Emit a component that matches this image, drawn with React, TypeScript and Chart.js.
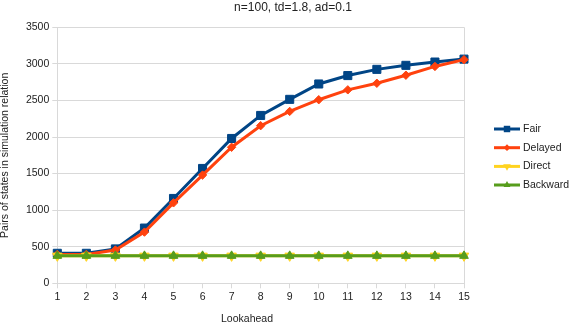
import React, { useEffect, useRef } from "react";
import { Chart, registerables } from "chart.js";

Chart.register(...registerables);

const lookahead = [1, 2, 3, 4, 5, 6, 7, 8, 9, 10, 11, 12, 13, 14, 15];
const fair = [410, 410, 470, 755, 1160, 1570, 1980, 2295, 2515, 2725, 2840, 2925, 2980, 3025, 3065];
const delayed = [395, 395, 455, 700, 1100, 1480, 1860, 2155, 2350, 2510, 2645, 2735, 2845, 2965, 3058];
const direct = [375, 375, 375, 375, 375, 375, 375, 375, 375, 375, 375, 375, 375, 375, 375];
const backward = [375, 375, 375, 375, 375, 375, 375, 375, 375, 375, 375, 375, 375, 375, 375];

const titleText = "n=100, td=1.8, ad=0.1";
const xTitle = "Lookahead";
const yTitle = "Pairs of states in simulation relation";

const FONT = "'Liberation Sans', Arial, sans-serif";
const TEXT = "#222222";
const GRID = "#d9d9d9";

const seriesDefs = [
  { label: "Fair", data: fair, color: "#004586", style: "rect", radius: 5.7, rotation: 0, order: 4 },
  { label: "Delayed", data: delayed, color: "#ff420e", style: "rectRot", radius: 4.2, rotation: 0, order: 3 },
  { label: "Direct", data: direct, color: "#ffd320", style: "triangle", radius: 5.5, rotation: 180, order: 2 },
  { label: "Backward", data: backward, color: "#579d1c", style: "triangle", radius: 5, rotation: 0, order: 1 },
];

function drawMarker(ctx: CanvasRenderingContext2D, style: string, r: number, rot: number, x: number, y: number) {
  ctx.save();
  ctx.translate(x, y);
  ctx.rotate((rot * Math.PI) / 180);
  ctx.beginPath();
  if (style === "rect") {
    const s = r * Math.SQRT1_2;
    ctx.rect(-s, -s, 2 * s, 2 * s);
  } else if (style === "rectRot") {
    ctx.moveTo(-r, 0);
    ctx.lineTo(0, -r);
    ctx.lineTo(r, 0);
    ctx.lineTo(0, r);
    ctx.closePath();
  } else {
    const h = (r * 3) / Math.sqrt(3);
    ctx.moveTo(-h / 2, r / 2);
    ctx.lineTo(0, -r);
    ctx.lineTo(h / 2, r / 2);
    ctx.closePath();
  }
  ctx.fill();
  ctx.restore();
}

const overlayPlugin = {
  id: "overlay",
  afterDraw(chart: any) {
    const ctx = chart.ctx as CanvasRenderingContext2D;
    const area = chart.chartArea;
    ctx.save();
    ctx.fillStyle = TEXT;
    ctx.font = `12px ${FONT}`;
    ctx.textAlign = "center";
    ctx.textBaseline = "middle";
    ctx.fillText(titleText, 293, 7.5);
    ctx.font = `10.5px ${FONT}`;
    ctx.fillText(xTitle, 247, 319);
    ctx.save();
    ctx.translate(5.5, (area.top + area.bottom) / 2);
    ctx.rotate(-Math.PI / 2);
    ctx.fillText(yTitle, 0, 0);
    ctx.restore();
    const ys = [129, 147.7, 166.4, 185];
    seriesDefs.forEach((s, i) => {
      const y = ys[i];
      ctx.strokeStyle = s.color;
      ctx.lineWidth = 3;
      ctx.beginPath();
      ctx.moveTo(494, y);
      ctx.lineTo(520, y);
      ctx.stroke();
      ctx.fillStyle = s.color;
      drawMarker(ctx, s.style, s.radius * 0.8, s.rotation, 507, y);
      ctx.fillStyle = TEXT;
      ctx.font = `10.5px ${FONT}`;
      ctx.textAlign = "left";
      ctx.textBaseline = "middle";
      ctx.fillText(s.label, 523, y);
    });
    ctx.restore();
  },
};

export default function App() {
  const ref = useRef<HTMLCanvasElement | null>(null);
  useEffect(() => {
    if (!ref.current) return;
    const chart = new Chart(ref.current, {
      type: "line",
      data: {
        datasets: seriesDefs.map((s) => ({
          label: s.label,
          data: s.data.map((v, i) => ({ x: lookahead[i], y: v })),
          borderColor: s.color,
          backgroundColor: s.color,
          borderWidth: 3,
          pointStyle: s.style as any,
          pointRadius: s.radius,
          pointRotation: s.rotation,
          pointBorderWidth: 1,
          pointBorderColor: s.color,
          pointBackgroundColor: s.color,
          tension: 0,
          order: s.order,
          clip: false as any,
        })),
      },
      options: {
        responsive: false,
        animation: false,
        events: [],
        layout: { padding: { top: 27.3, right: 106, bottom: 0, left: 0 } },
        plugins: {
          legend: { display: false },
          title: { display: false },
          tooltip: { enabled: false },
        },
        scales: {
          x: {
            type: "linear",
            min: 1,
            max: 15,
            afterFit: (s: any) => {
              s.height = 40.7;
            },
            ticks: {
              stepSize: 1,
              color: TEXT,
              font: { family: FONT, size: 10.5 },
              padding: 3,
              maxRotation: 0,
              callback: (v: any) => String(v),
            },
            grid: {
              color: (c: any) => (c.tick && c.tick.value === 15 ? GRID : "rgba(0,0,0,0)"),
              tickColor: GRID,
              tickLength: 5,
              lineWidth: 1,
            },
            border: { color: GRID, width: 1 },
          },
          y: {
            type: "linear",
            min: 0,
            max: 3500,
            afterFit: (s: any) => {
              s.width = 57.3;
            },
            ticks: {
              stepSize: 500,
              color: TEXT,
              font: { family: FONT, size: 10.5 },
              padding: 3,
              callback: (v: any) => String(v),
            },
            grid: {
              color: GRID,
              tickColor: GRID,
              tickLength: 5,
              lineWidth: 1,
            },
            border: { color: GRID, width: 1 },
          },
        },
      },
      plugins: [overlayPlugin],
    });
    return () => chart.destroy();
  }, []);
  return (
    <div style={{ position: "absolute", left: 0, top: 0, width: 570, height: 324, background: "#fff" }}>
      <canvas ref={ref} width={570} height={324} style={{ display: "block" }} />
    </div>
  );
}
